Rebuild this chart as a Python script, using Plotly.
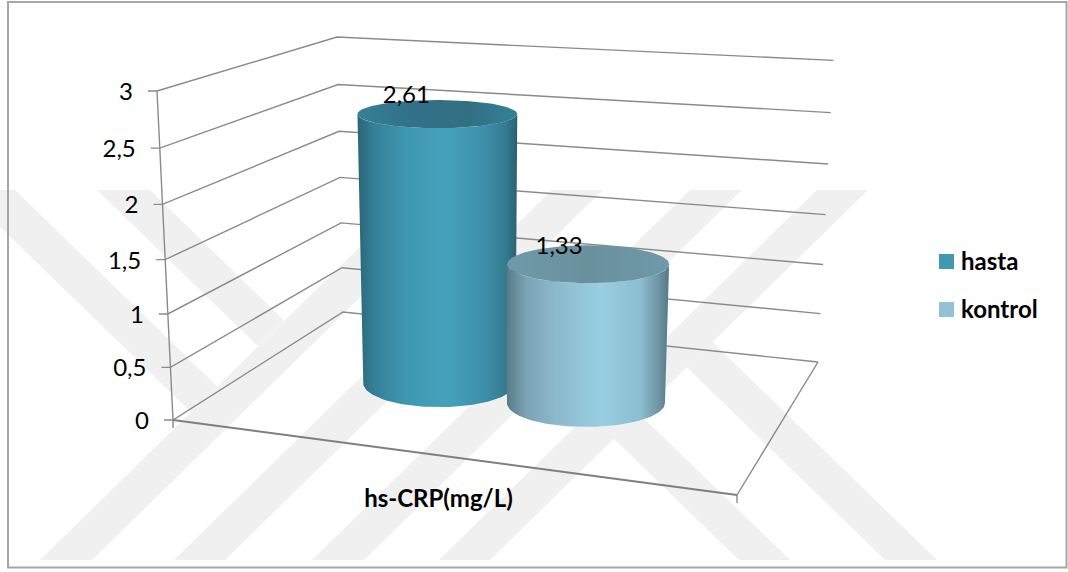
import numpy as np
import plotly.graph_objects as go

# Chart data
categories = ["hs-CRP(mg/L)"]
series_names = ["hasta", "kontrol"]
series_values = [2.61, 1.33]
tick_values = [0, 0.5, 1, 1.5, 2, 2.5, 3]
tick_labels = ["0", "0,5", "1", "1,5", "2", "2,5", "3"]

# Placement of each cylinder on the floor (0-1 across, 0-1 deep)
bar_across = [0.364, 0.652]
bar_depth = [0.486, 0.468]
bar_half_width = [76, 79]

side_scales = [
    [[0, "#2b6577"], [0.1, "#347f96"], [0.3, "#3f97b0"], [0.55, "#45a2bc"],
     [0.8, "#3d8ea8"], [0.93, "#357a90"], [1, "#2a6070"]],
    [[0, "#587c89"], [0.12, "#7ba3b3"], [0.3, "#8cb9cb"], [0.58, "#98cfe3"],
     [0.82, "#8cbdd0"], [0.93, "#6f97a6"], [1, "#557885"]],
]
top_scales = [
    [[0, "#348098"], [0.3, "#32728a"], [0.7, "#326f83"], [1, "#35809a"]],
    [[0, "#6f9aa9"], [0.5, "#6a909e"], [1, "#6f9aa9"]],
]
legend_colors = ["#4297b1", "#94c2d5"]

GRID = "#8a8a8a"
STRIPE = "#f0f0f0"
FRAME = "#a6a6a6"
FONT = "Lato"


def project(across, depth, value):
    """Perspective view of the 3D box: floor position plus value height."""
    w = -0.11045 * across + 0.2062 * depth - 0.01622 * value + 1
    x = (482.6 * across + 240.73 * depth - 7.88 * value + 173) / w
    y = (20.33 * across - 43.67 * depth - 111.14 * value + 420) / w
    return x, y


def polyline(*points):
    xs, ys = zip(*points)
    return list(xs) + [None], list(ys) + [None]


def ellipse_size(i, value):
    return bar_half_width[i] + 1.5 * value, 24 - 3.8 * value


fig = go.Figure()

# Gridlines on the side and back walls, with tick stubs on the value axis
grid_x, grid_y = [], []
for v in tick_values:
    fx, fy = project(0, 0, v)
    xs, ys = polyline((fx - 9, fy), (fx, fy), project(0, 1, v), project(1, 1, v))
    grid_x += xs
    grid_y += ys
for seg in (
    [project(0, 0, tick_values[-1]), project(0, 0, 0)],
    [project(1, 1, 0), project(1, 0, 0)],
):
    xs, ys = polyline(*seg)
    grid_x += xs
    grid_y += ys
for corner in (project(0, 0, 0), project(1, 0, 0)):
    xs, ys = polyline(corner, (corner[0], corner[1] + 8))
    grid_x += xs
    grid_y += ys
fig.add_trace(go.Scatter(x=grid_x, y=grid_y, mode="lines", showlegend=False,
                         hoverinfo="skip", line=dict(color=GRID, width=1.4)))

# Front edge of the floor is heavier
xs, ys = polyline(project(0, 0, 0), project(1, 0, 0))
fig.add_trace(go.Scatter(x=xs, y=ys, mode="lines", showlegend=False,
                         hoverinfo="skip", line=dict(color="#7f7f7f", width=2)))

# Cylinders, back one first
theta = np.linspace(0, np.pi, 60)
full = np.linspace(0, 2 * np.pi, 120)
for i, (name, value) in enumerate(zip(series_names, series_values)):
    bx, by = project(bar_across[i], bar_depth[i], 0)
    tx, ty = project(bar_across[i], bar_depth[i], value)
    ba, bb = ellipse_size(i, 0)
    ta, tb = ellipse_size(i, value)

    top_arc_x = tx - ta * np.cos(theta)
    top_arc_y = ty + tb * np.sin(theta)
    bottom_arc_x = bx + ba * np.cos(theta)
    bottom_arc_y = by + bb * np.sin(theta)
    side_x = np.concatenate([top_arc_x, bottom_arc_x, top_arc_x[:1]])
    side_y = np.concatenate([top_arc_y, bottom_arc_y, top_arc_y[:1]])
    fig.add_trace(go.Scatter(
        x=side_x, y=side_y, mode="lines", fill="toself", name=name,
        line=dict(width=0), showlegend=False, hoverinfo="skip",
        fillgradient=dict(type="horizontal", colorscale=side_scales[i]),
    ))
    fig.add_trace(go.Scatter(
        x=tx + ta * np.cos(full), y=ty + tb * np.sin(full), mode="lines",
        fill="toself", line=dict(width=0), showlegend=False, hoverinfo="skip",
        fillgradient=dict(type="horizontal", colorscale=top_scales[i]),
    ))

# Value labels above each cylinder
label_x, label_y, label_text = [], [], []
for i, value in enumerate(series_values):
    tx, ty = project(bar_across[i], bar_depth[i], value)
    label_x.append(tx - 31 + 2 * i)
    label_y.append(ty - 17 + i)
    label_text.append(f"{value:.2f}".replace(".", ","))
fig.add_trace(go.Scatter(x=label_x, y=label_y, text=label_text, mode="text",
                         showlegend=False, hoverinfo="skip",
                         textfont=dict(family=FONT, size=24, color="#000000")))

# Value axis labels
axis_pts = [project(0, 0, v) for v in tick_values]
fig.add_trace(go.Scatter(
    x=[p[0] - 24 for p in axis_pts], y=[p[1] + 3 for p in axis_pts],
    text=tick_labels, mode="text", textposition="middle left",
    showlegend=False, hoverinfo="skip",
    textfont=dict(family=FONT, size=24, color="#000000"),
))

# Category label under the floor
cx, cy = project(0.5, 0, 0)
fig.add_trace(go.Scatter(x=[cx], y=[cy + 46], text=categories, mode="text",
                         showlegend=False, hoverinfo="skip",
                         textfont=dict(family=FONT, size=24, color="#000000", weight="bold")))

# Key on the right
key_y = [261.5, 309.5]
fig.add_trace(go.Scatter(
    x=[946.5, 946.5], y=key_y, mode="markers", showlegend=False, hoverinfo="skip",
    marker=dict(symbol="square", size=15, color=legend_colors, line=dict(width=0)),
))
fig.add_trace(go.Scatter(
    x=[961, 961], y=[k + 2 for k in key_y], text=series_names, mode="text",
    textposition="middle right", showlegend=False, hoverinfo="skip",
    textfont=dict(family=FONT, size=24, color="#000000", weight="bold"),
))

# Pale diagonal stripes behind the plot
stripe_polys = []
for left, right in [(40, 92), (174, 225), (312, 364), (439, 490)]:
    stripe_polys.append([(left, 560), (right, 560), (right + 378, 190), (left + 378, 190)])
stripe_polys += [
    [(739, 560), (790, 560), (638.5, 413), (613, 438)],
    [(885, 560), (937, 560), (712.5, 342), (686.5, 367)],
    [(97, 190), (150, 190), (284, 320.4), (258, 346.3)],
    [(-38, 190), (15, 190), (217, 386.3), (190.9, 412)],
]
shapes = [
    dict(type="path", layer="below", fillcolor=STRIPE, line=dict(width=0),
         path="M " + " L ".join(f"{x},{y}" for x, y in poly) + " Z")
    for poly in stripe_polys
]
# Outer chart border
shapes.append(dict(type="rect", layer="below", x0=8, y0=2, x1=1066.5, y1=567.5,
                   line=dict(color=FRAME, width=2), fillcolor="rgba(0,0,0,0)"))

fig.update_layout(
    width=1068, height=572, margin=dict(l=0, r=0, t=0, b=0),
    paper_bgcolor="#ffffff", plot_bgcolor="#ffffff", shapes=shapes,
    xaxis=dict(range=[0, 1068], visible=False, fixedrange=True),
    yaxis=dict(range=[572, 0], visible=False, fixedrange=True),
    showlegend=False,
)
fig.write_html("out.html")
